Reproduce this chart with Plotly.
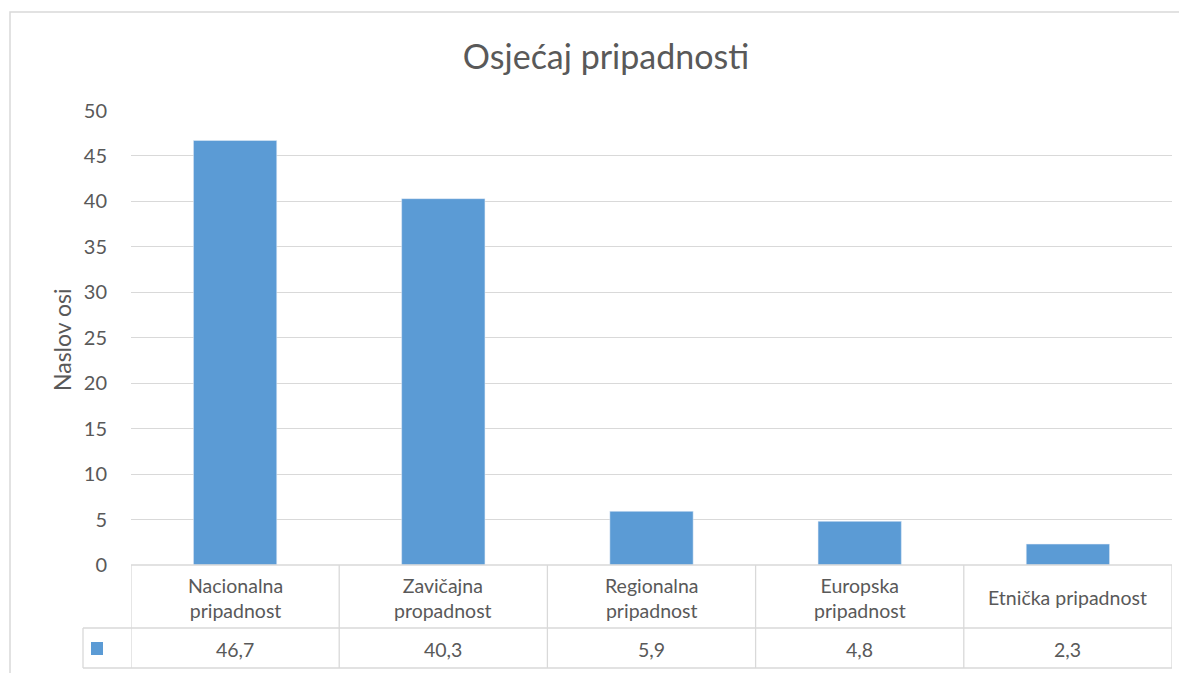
import plotly.graph_objects as go

W, H = 1187, 673
OFF = 8  # page body margin offsets the figure

categories = ["Nacionalna pripadnost", "Zavičajna propadnost", "Regionalna pripadnost",
              "Europska pripadnost", "Etnička pripadnost"]
cat_labels = ["Nacionalna<br>pripadnost", "Zavičajna<br>propadnost", "Regionalna<br>pripadnost",
              "Europska<br>pripadnost", "Etnička pripadnost"]
values = [46.7, 40.3, 5.9, 4.8, 2.3]
y_ticks = [0, 5, 10, 15, 20, 25, 30, 35, 40, 45, 50]

BAR = "#5B9BD5"
GRID = "#D9D9D9"
TXT = "#595959"
FONT = "Lato, Open Sans, sans-serif"

# layout positions in screen pixels
PX_L, PX_R = 131, 1172
PY_TOP, PY_BOT = 110.5, 565
ROW1, ROW2 = 628, 668
KEY_L = 83


def px(x):
    return (x - OFF) / W


def py(y):
    return 1 - (y - OFF) / H


fig = go.Figure()
fig.add_trace(go.Bar(
    x=list(range(len(values))), y=values,
    marker_color=BAR, width=0.4, hoverinfo="skip",
))

line = dict(color=GRID, width=1.3)
shapes = [
    # outer chart border
    dict(type="rect", xref="paper", yref="paper", x0=px(10), x1=1, y0=py(12), y1=0,
         line=dict(color=GRID, width=1.5)),
    # table horizontal lines
    dict(type="line", xref="paper", yref="paper", x0=px(PX_L), x1=px(PX_R), y0=py(PY_BOT), y1=py(PY_BOT), line=line),
    dict(type="line", xref="paper", yref="paper", x0=px(KEY_L), x1=px(PX_R), y0=py(ROW1), y1=py(ROW1), line=line),
    dict(type="line", xref="paper", yref="paper", x0=px(KEY_L), x1=px(PX_R), y0=py(ROW2), y1=py(ROW2), line=line),
    dict(type="line", xref="paper", yref="paper", x0=px(KEY_L), x1=px(KEY_L), y0=py(ROW1), y1=py(ROW2), line=line),
    # legend key
    dict(type="rect", xref="paper", yref="paper", x0=px(91), x1=px(103), y0=py(642), y1=py(655),
         fillcolor=BAR, line=dict(width=0)),
]
for i in range(len(values) + 1):
    shapes.append(dict(type="line", xref="x", yref="paper", x0=i - 0.5, x1=i - 0.5,
                       y0=py(PY_BOT), y1=py(ROW2), line=line))

annotations = [
    dict(text="Naslov osi", textangle=-90, x=px(62), y=py(340),
         xref="paper", yref="paper", xanchor="center", yanchor="middle", showarrow=False,
         font=dict(size=23, color=TXT, family=FONT)),
]
for i, (lab, v) in enumerate(zip(cat_labels, values)):
    annotations.append(dict(text=lab, x=i, y=py((PY_BOT + ROW1) / 2 + 1), xref="x", yref="paper",
                            xanchor="center", yanchor="middle", showarrow=False,
                            font=dict(size=19.5, color=TXT, family=FONT)))
    annotations.append(dict(text=f"{v}".replace(".", ","), x=i, y=py((ROW1 + ROW2) / 2 + 1),
                            xref="x", yref="paper", xanchor="center", yanchor="middle",
                            showarrow=False, font=dict(size=19.5, color=TXT, family=FONT)))

fig.update_layout(
    width=W, height=H,
    margin=dict(l=0, r=0, t=0, b=0),
    paper_bgcolor="white", plot_bgcolor="white",
    showlegend=False,
    title=dict(text="Osjećaj pripadnosti", x=px(606), xanchor="center", y=py(57), yanchor="middle",
               font=dict(size=34, color=TXT, family=FONT)),
    xaxis=dict(domain=[px(PX_L), px(PX_R)], range=[-0.5, len(values) - 0.5], automargin=False,
               showticklabels=False, showgrid=False, zeroline=False, ticks=""),
    yaxis=dict(domain=[py(PY_BOT), py(PY_TOP)], range=[0, 50], tickvals=y_ticks, automargin=False,
               showgrid=True, gridcolor=GRID, gridwidth=1.3, zeroline=False,
               ticks="", ticklabelstandoff=23,
               tickfont=dict(size=20, color=TXT, family=FONT)),
    shapes=shapes,
    annotations=annotations,
)

fig.write_html("out.html")
